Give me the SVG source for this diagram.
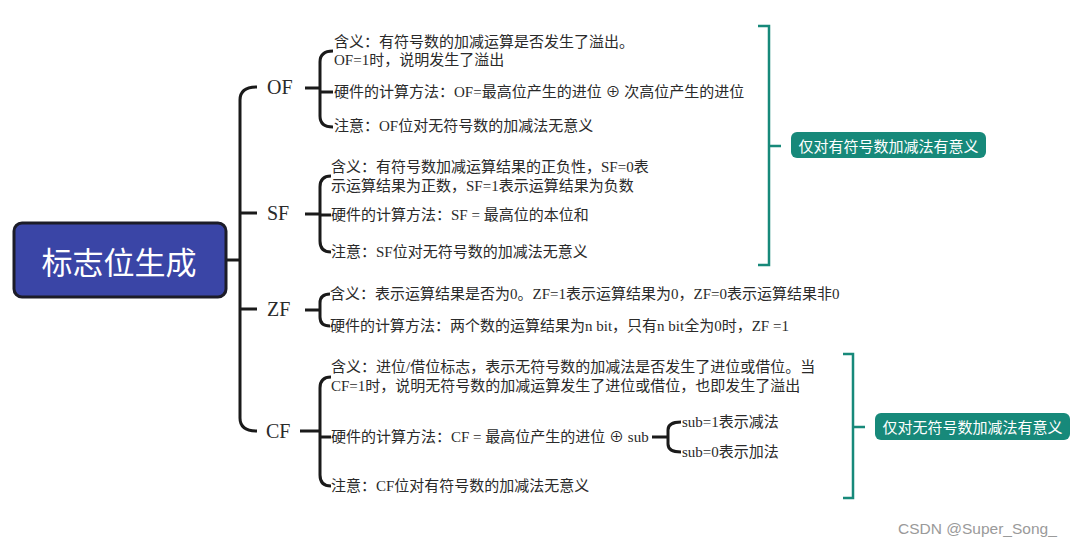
<svg xmlns="http://www.w3.org/2000/svg" width="1075" height="548" viewBox="0 0 1075 548">
<style>
.bg{fill:#ffffff}
.ln{fill:none;stroke:#1a1a1a;stroke-width:3;stroke-linecap:butt}
.tl{fill:none;stroke:#17897a;stroke-width:2.5}
.t{font-family:"Liberation Serif","Noto Sans CJK SC",serif;font-size:15px;fill:#2a2a2a;dominant-baseline:central}
.lab{font-family:"Liberation Serif","Noto Sans CJK SC",serif;font-size:20px;fill:#2a2a2a;dominant-baseline:central}
.root{fill:#3a45a6;stroke:#1c1c28;stroke-width:3}
.rt{font-family:"Noto Sans CJK SC","Noto Sans",sans-serif;font-size:31px;fill:#ffffff;dominant-baseline:central;text-anchor:middle}
.tb{fill:#17897a}
.tt{font-family:"Noto Sans CJK SC","Noto Sans",sans-serif;font-size:15px;fill:#ffffff;dominant-baseline:central;text-anchor:middle}
.wm{font-family:"Liberation Sans",Arial,sans-serif;font-size:15.5px;fill:#9a9a9a;dominant-baseline:central}
</style>
<rect class="bg" x="0" y="0" width="1075" height="548"/>
<g id="connectors">
<path class="ln" d="M226,260 H240"/>
<path class="ln" d="M257,87 Q240,87 240,100 L240,418 Q240,431 257,431"/>
<path class="ln" d="M240,213 H257 M240,309 H257"/>
<path class="ln" d="M305,88 H320 M333,51 Q320,51 320,62 L320,116 Q320,127 333,127 M320,92 H333"/>
<path class="ln" d="M305,214 H320 M331,176 Q320,176 320,187 L320,241 Q320,252 331,252 M320,215 H331"/>
<path class="ln" d="M305,310 H320 M330,294 Q320,294 320,303 L320,317 Q320,326 330,326"/>
<path class="ln" d="M300,431 H320 M331,377 Q320,377 320,388 L320,475 Q320,486 331,486 M320,437 H331"/>
<path class="ln" d="M652,437 H668 M681,422 Q668,422 668,430 L668,444 Q668,452 681,452"/>
<path class="tl" d="M758,26 H769 V265 H758 M769,146 H781"/>
<path class="tl" d="M843,354 H853 V498 H843 M853,427 H865"/>
</g>
<g id="root">
<rect class="root" x="14" y="223" width="212" height="74" rx="8"/>
<text class="rt" x="119" y="260">标志位生成</text>
</g>
<g id="OF">
<text class="lab" x="267" y="87">OF</text>
</g>
<g id="OF-children">
<text class="t" x="334" y="42">含义：有符号数的加减运算是否发生了溢出。</text>
<text class="t" x="334" y="60">OF=1时，说明发生了溢出</text>
<text class="t" x="334" y="92">硬件的计算方法：OF=最高位产生的进位 ⊕ 次高位产生的进位</text>
<text class="t" x="334" y="126">注意：OF位对无符号数的加减法无意义</text>
</g>
<g id="SF">
<text class="lab" x="267" y="213">SF</text>
</g>
<g id="SF-children">
<text class="t" x="331" y="167">含义：有符号数加减运算结果的正负性，SF=0表</text>
<text class="t" x="331" y="186">示运算结果为正数，SF=1表示运算结果为负数</text>
<text class="t" x="331" y="215">硬件的计算方法：SF = 最高位的本位和</text>
<text class="t" x="331" y="252">注意：SF位对无符号数的加减法无意义</text>
</g>
<g id="ZF">
<text class="lab" x="267" y="309">ZF</text>
</g>
<g id="ZF-children">
<text class="t" x="330" y="294">含义：表示运算结果是否为0。ZF=1表示运算结果为0，ZF=0表示运算结果非0</text>
<text class="t" x="330" y="326">硬件的计算方法：两个数的运算结果为n bit，只有n bit全为0时，ZF =1</text>
</g>
<g id="CF">
<text class="lab" x="266" y="431">CF</text>
</g>
<g id="CF-children">
<text class="t" x="331" y="367">含义：进位/借位标志，表示无符号数的加减法是否发生了进位或借位。当</text>
<text class="t" x="331" y="386">CF=1时，说明无符号数的加减运算发生了进位或借位，也即发生了溢出</text>
<text class="t" x="331" y="437">硬件的计算方法：CF = 最高位产生的进位 ⊕ sub</text>
<text class="t" x="331" y="486">注意：CF位对有符号数的加减法无意义</text>
</g>
<g id="sub">
<text class="t" x="682" y="422">sub=1表示减法</text>
<text class="t" x="682" y="452">sub=0表示加法</text>
</g>
<g id="note-signed">
<rect class="tb" x="791" y="132" width="195" height="26" rx="6"/>
<text class="tt" x="888.5" y="145">仅对有符号数加减法有意义</text>
</g>
<g id="note-unsigned">
<rect class="tb" x="875" y="413" width="195" height="27" rx="6"/>
<text class="tt" x="972.5" y="426.5">仅对无符号数加减法有意义</text>
</g>
<text class="wm" x="898" y="528">CSDN @Super_Song_</text>
</svg>
